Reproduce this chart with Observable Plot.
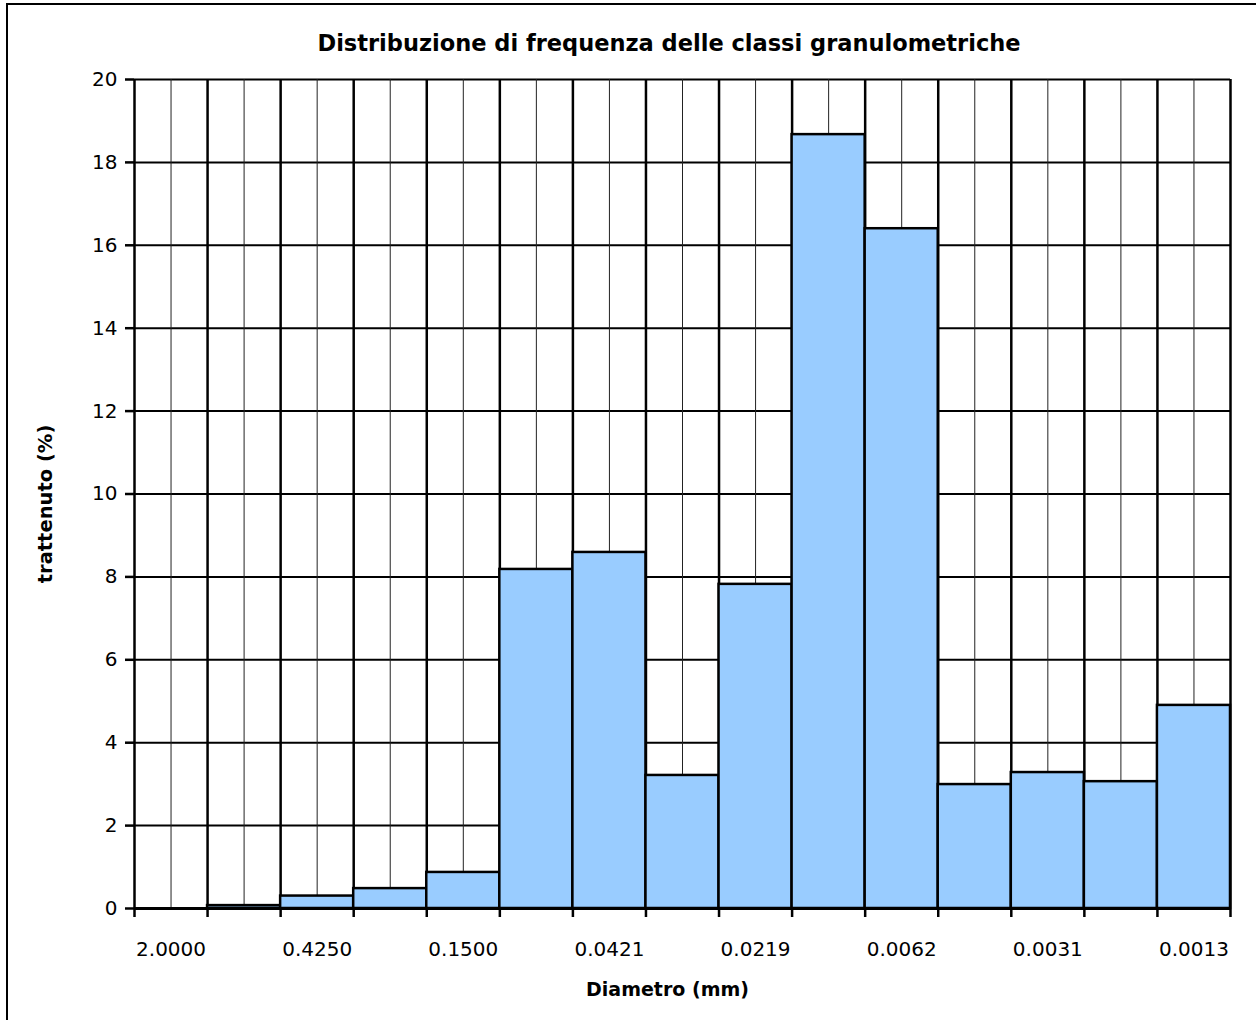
<!DOCTYPE html>
<html>
<head>
<meta charset="utf-8">
<script src="https://cdn.jsdelivr.net/npm/d3@7"></script>
<script src="https://cdn.jsdelivr.net/npm/@observablehq/plot@0.6"></script>
<style>
  html, body { margin: 0; padding: 0; background: #fff; overflow: hidden; }
  #frame { position: absolute; left: 6px; top: 3px; width: 1400px; height: 1200px; border: 2px solid #000; box-sizing: border-box; }
  #title { position: absolute; top: 30px; left: 0; width: 1338px; text-align: center; font: bold 22.5px "DejaVu Sans", sans-serif; color: #000; }
  #chart { position: absolute; left: 0; top: 0; }
</style>
</head>
<body>
<div id="frame"></div>
<div id="title">Distribuzione di frequenza delle classi granulometriche</div>
<div id="chart"></div>
<script>
// Tick labels shown under every other class (class diameters, mm)
const tickLabels = ["2.0000", "0.4250", "0.1500", "0.0421", "0.0219", "0.0062", "0.0031", "0.0013"];
// Retained percentage for each of the 15 granulometric classes
const retained = [0, 0.07, 0.3, 0.48, 0.87, 8.18, 8.59, 3.21, 7.82, 18.67, 16.4, 2.99, 3.28, 3.06, 4.9];
const yTicks = [0, 2, 4, 6, 8, 10, 12, 14, 16, 18, 20];

const data = retained.map((v, i) => ({i, v}));
const nClasses = retained.length;
const boundaries = d3.range(0, nClasses + 1);
const centers = d3.range(nClasses).map(i => i + 0.5);
const labelPos = tickLabels.map((_, k) => 2 * k + 0.5);

const chart = Plot.plot({
  width: 1256,
  height: 1020,
  marginLeft: 134,
  marginRight: 26,
  marginTop: 79,
  marginBottom: 112,
  style: {fontFamily: "DejaVu Sans, sans-serif", fontSize: "20px", color: "#000", background: "transparent"},
  x: {domain: [0, nClasses]},
  y: {domain: [0, 20]},
  marks: [
    Plot.ruleY(yTicks, {stroke: "#000", strokeWidth: 2}),
    Plot.ruleX(centers, {y1: 0, y2: 20, stroke: "#222", strokeWidth: 1}),
    Plot.ruleX(boundaries, {y1: 0, y2: 20, stroke: "#000", strokeWidth: 2.5}),
    Plot.rectY(data, {x1: d => d.i, x2: d => d.i + 1, y: "v", fill: "#99CCFF", stroke: "#000", strokeWidth: 2.5}),
    Plot.ruleY([0], {stroke: "#000", strokeWidth: 3}),
    Plot.axisY({ticks: yTicks, tickSize: 9, tickPadding: 8, strokeWidth: 2.5, label: null, fontSize: 20}),
    Plot.axisX({ticks: boundaries, tickSize: 9, strokeWidth: 2.5, tickFormat: () => "", label: null}),
    Plot.axisX({ticks: labelPos, tickSize: 0, tickPadding: 33, tickFormat: (d, k) => tickLabels[k], label: null, fontSize: 20}),
    Plot.text(["Diametro (mm)"], {frameAnchor: "bottom", dx: -15, dy: 87, fontWeight: "bold", fontSize: 19}),
    Plot.text(["trattenuto (%)"], {frameAnchor: "left", textAnchor: "middle", dx: -89, dy: 10, rotate: -90, fontWeight: "bold", fontSize: 19.5})
  ]
});
document.getElementById("chart").appendChild(chart);
</script>
</body>
</html>
